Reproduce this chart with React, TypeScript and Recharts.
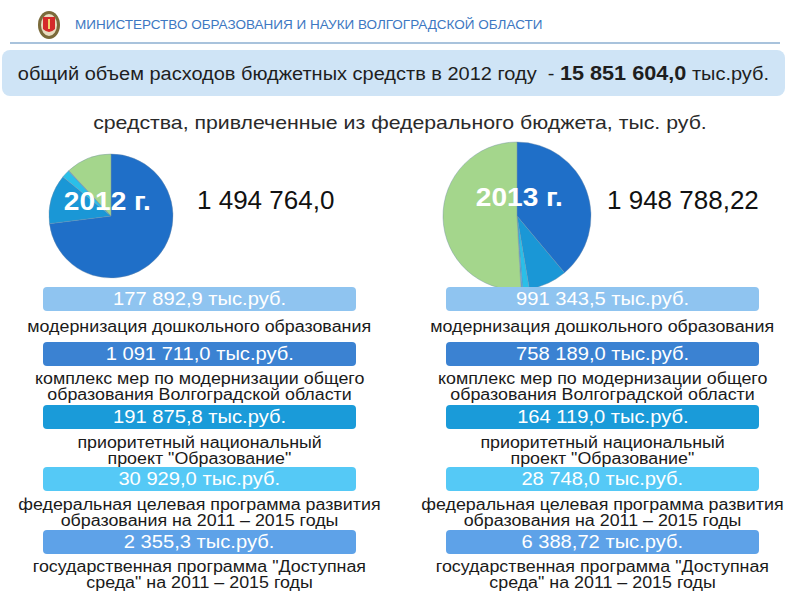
import { PieChart, Pie, Cell } from 'recharts';

// подписи направлений (по порядку плашек)
const programs = [
  ['модернизация дошкольного образования'],
  ['комплекс мер по модернизации общего', 'образования Волгоградской области'],
  ['приоритетный национальный', 'проект "Образование"'],
  ['федеральная целевая программа развития', 'образования на 2011 – 2015 годы'],
  ['государственная программа "Доступная', 'среда" на 2011 – 2015 годы'],
];

const values2012 = [177892.9, 1091711.0, 191875.8, 30929.0, 2355.3];
const values2013 = [991343.5, 758189.0, 164119.0, 28748.0, 6388.72];

const labels2012 = ['177 892,9', '1 091 711,0', '191 875,8', '30 929,0', '2 355,3'];
const labels2013 = ['991 343,5', '758 189,0', '164 119,0', '28 748,0', '6 388,72'];

const totals = ['1 494 764,0', '1 948 788,22'];
const years = ['2012 г.', '2013 г.'];

// порядок секторов по часовой стрелке от 12 часов
const pieOrder = [1, 2, 3, 4, 0];

const boxColors = ['#8fc4f0', '#3b82d2', '#1a9bd9', '#55c9f6', '#5ea2e8'];
const pieColors = ['#a4d68c', '#1f6fc8', '#1a97d6', '#2abfe8', '#5fa6e6'];

const boxTops = [287, 342, 405, 467, 530];
const labelTops = [319, 371, 435, 497, 559];

const FONT = '"Liberation Sans", Arial, sans-serif';

const wide = (sx: number): React.CSSProperties => ({
  display: 'inline-block',
  transform: `scaleX(${sx})`,
  transformOrigin: 'center',
  whiteSpace: 'pre',
});

function pieData(values: number[]) {
  return pieOrder.map((i) => ({ name: programs[i].join(' '), value: values[i], color: pieColors[i] }));
}

function Column({ left, labels }: { left: number; labels: string[] }) {
  return (
    <>
      {labels.map((l, i) => (
        <div
          key={'b' + i}
          style={{
            position: 'absolute',
            left,
            top: boxTops[i],
            width: 313,
            height: 24,
            borderRadius: 4,
            background: boxColors[i],
            color: '#fff',
            fontSize: 19,
            lineHeight: '24px',
            textAlign: 'center',
          }}
        >
          <span style={wide(1.06)}>{l} тыс.руб.</span>
        </div>
      ))}
      {programs.map((lines, i) => (
        <div
          key={'l' + i}
          style={{
            position: 'absolute',
            left: left - 60,
            top: labelTops[i],
            width: 433,
            fontSize: 16,
            lineHeight: '16px',
            textAlign: 'center',
            color: '#1a1a1a',
          }}
        >
          {lines.map((t, j) => (
            <div key={j}>
              <span style={wide(1.115)}>{t}</span>
            </div>
          ))}
        </div>
      ))}
    </>
  );
}

export default function App() {
  const d2012 = pieData(values2012);
  const d2013 = pieData(values2013);
  return (
    <div
      style={{
        position: 'absolute',
        left: 0,
        top: 0,
        width: 800,
        height: 600,
        background: '#fff',
        fontFamily: FONT,
        overflow: 'hidden',
      }}
    >
      {/* герб */}
      <svg style={{ position: 'absolute', left: 36, top: 9 }} width={26} height={32}>
        <ellipse cx={13} cy={16} rx={11} ry={14} fill="#7a6a3a" />
        <ellipse cx={13} cy={16} rx={8} ry={11} fill="#e8dcc0" />
        <path d="M7 8 H19 V20 Q13 26 7 20 Z" fill="#d42a2a" />
        <rect x={12} y={10} width={2} height={10} fill="#f3d36b" />
      </svg>
      <div
        style={{
          position: 'absolute',
          left: 75,
          top: 17,
          fontFamily: '"Liberation Sans Narrow", "Arial Narrow", sans-serif',
          fontSize: 13.5,
          color: '#3d78c2',
          whiteSpace: 'nowrap',
        }}
      >
        МИНИСТЕРСТВО ОБРАЗОВАНИЯ И НАУКИ ВОЛГОГРАДСКОЙ ОБЛАСТИ
      </div>
      <div style={{ position: 'absolute', left: 10, top: 42, width: 770, height: 2, background: '#a9c3dc' }} />

      <div
        style={{
          position: 'absolute',
          left: 2,
          top: 50,
          width: 783,
          height: 46,
          borderRadius: 8,
          background: '#cfe4f6',
          fontSize: 18,
          lineHeight: '46px',
          textAlign: 'center',
          color: '#1e1e1e',
        }}
      >
        <span style={wide(1.11)}>
          {'общий объем расходов бюджетных средств в 2012 году  - '}
          <b style={{ fontSize: 19.5 }}>15 851 604,0</b> тыс.руб.
        </span>
      </div>

      <div
        style={{
          position: 'absolute',
          left: 0,
          top: 112,
          width: 800,
          textAlign: 'center',
          fontSize: 19,
          color: '#2a2a2a',
        }}
      >
        <span style={wide(1.12)}>средства, привлеченные из федерального бюджета, тыс. руб.</span>
      </div>

      <div style={{ position: 'absolute', left: 0, top: 130 }}>
        <PieChart width={800} height={165}>
          <Pie
            data={d2012}
            dataKey="value"
            cx={106}
            cy={81}
            outerRadius={62}
            startAngle={90}
            endAngle={-270}
            stroke="#6f8aa6"
            strokeWidth={0.4}
            isAnimationActive={false}
          >
            {d2012.map((d, i) => (
              <Cell key={i} fill={d.color} />
            ))}
          </Pie>
          <Pie
            data={d2013}
            dataKey="value"
            cx={512}
            cy={81}
            outerRadius={74}
            startAngle={90}
            endAngle={-270}
            stroke="#6f8aa6"
            strokeWidth={0.4}
            isAnimationActive={false}
          >
            {d2013.map((d, i) => (
              <Cell key={i} fill={d.color} />
            ))}
          </Pie>
        </PieChart>
      </div>

      {[
        { x: 107, y: 201 },
        { x: 519, y: 197 },
      ].map((p, i) => (
        <div
          key={i}
          style={{
            position: 'absolute',
            left: p.x - 60,
            top: p.y - 17,
            width: 120,
            textAlign: 'center',
            fontSize: 26,
            fontWeight: 'bold',
            color: '#fff',
            lineHeight: '34px',
          }}
        >
          <span style={wide(1.08)}>{years[i]}</span>
        </div>
      ))}
      {[197, 607].map((x, i) => (
        <div
          key={i}
          style={{ position: 'absolute', left: x, top: 185, fontSize: 26, color: '#111', whiteSpace: 'nowrap' }}
        >
          {totals[i]}
        </div>
      ))}

      <Column left={43} labels={labels2012} />
      <Column left={446} labels={labels2013} />
    </div>
  );
}
